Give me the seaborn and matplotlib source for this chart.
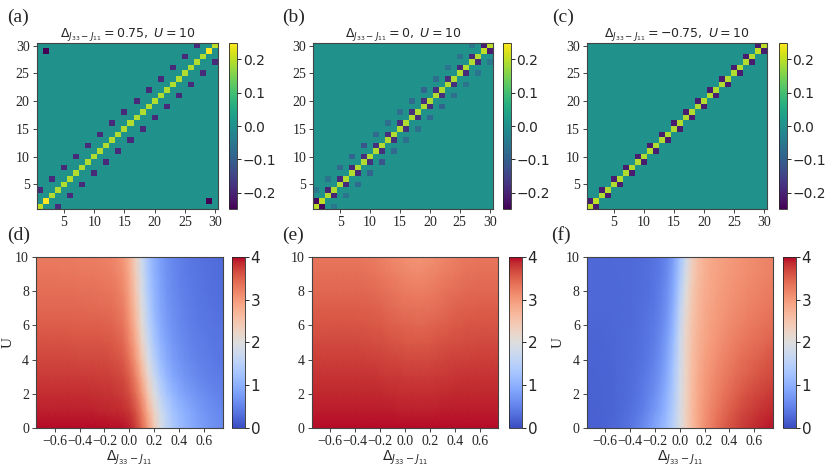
import numpy as np
import matplotlib
matplotlib.use("Agg")
import matplotlib.pyplot as plt
import seaborn as sns

sns.set_theme(style="ticks")
plt.rcParams['font.family'] = ['DejaVu Sans']
plt.rcParams['mathtext.fontset'] = 'dejavusans'

SERIF = 'Liberation Serif'

# ---- top row: 30 x 30 correlation matrices ----
n_sites = 30
site_ticks = [5, 10, 15, 20, 25, 30]

# (a) Delta = 0.75
a_diag = [0.20, 0.25, 0.19, 0.19, 0.19, 0.19, 0.19, 0.19, 0.19, 0.19,
          0.19, 0.19, 0.19, 0.19, 0.19, 0.19, 0.19, 0.19, 0.19, 0.19,
          0.19, 0.19, 0.19, 0.19, 0.19, 0.19, 0.19, 0.19, 0.25, 0.20]
a_band_lo = [1, 3, 5, 7, 9, 11, 13, 15, 17, 19, 21, 23, 25, 27]   # pairs (i, i+3)
a_band_val = [-0.19, -0.19, -0.19, -0.19, -0.19, -0.19, -0.19,
              -0.19, -0.19, -0.19, -0.19, -0.19, -0.19, -0.19]
a_corner = [(2, 29)]
a_corner_val = [-0.25]

# (b) Delta = 0
b_diag = [0.20, 0.20, 0.19, 0.19, 0.19, 0.19, 0.19, 0.19, 0.19, 0.19,
          0.19, 0.19, 0.19, 0.19, 0.19, 0.19, 0.19, 0.19, 0.19, 0.19,
          0.19, 0.19, 0.19, 0.19, 0.19, 0.19, 0.19, 0.19, 0.20, 0.20]
b_pair_lo = [1, 3, 5, 7, 9, 11, 13, 15, 17, 19, 21, 23, 25, 27, 29]   # pairs (i, i+1)
b_pair_val = [-0.24, -0.2, -0.19, -0.19, -0.18, -0.18, -0.18, -0.18,
              -0.18, -0.18, -0.18, -0.18, -0.19, -0.19, -0.21]
b_band_lo = [1, 3, 5, 7, 9, 11, 13, 15, 17, 19, 21, 23, 25, 27]
b_band_val = [-0.05, -0.06, -0.08, -0.09, -0.12, -0.08, -0.07,
              -0.07, -0.08, -0.09, -0.07, -0.06, -0.06, -0.05]

# (c) Delta = -0.75
c_diag = [0.20, 0.20, 0.19, 0.19, 0.19, 0.19, 0.19, 0.19, 0.19, 0.19,
          0.19, 0.19, 0.19, 0.19, 0.19, 0.19, 0.19, 0.19, 0.19, 0.19,
          0.19, 0.19, 0.19, 0.19, 0.19, 0.19, 0.19, 0.19, 0.20, 0.20]
c_pair_lo = [1, 3, 5, 7, 9, 11, 13, 15, 17, 19, 21, 23, 25, 27, 29]
c_pair_val = [-0.21, -0.21, -0.21, -0.21, -0.21, -0.21, -0.21, -0.21,
              -0.21, -0.21, -0.21, -0.21, -0.21, -0.21, -0.21]

# ---- bottom row: phase diagrams sampled at U = 0, 1, ..., 10 and Delta = -0.75, -0.70, ..., 0.75 ----
delta_lo, delta_step = -0.75, 0.05
delta_ticks = [-0.6, -0.4, -0.2, 0.0, 0.2, 0.4, 0.6]
u_ticks = [0, 2, 4, 6, 8, 10]

d_rows = [
    [3.97,3.97,3.97,3.97,3.97,3.97,3.97,3.97,3.97,3.97,3.97,3.97,3.96,3.96,3.95,3.90,3.75,3.45,3.00,2.45,1.95,1.62,1.38,1.20,1.06,0.95,0.85,0.77,0.70,0.65,0.60],
    [3.90,3.90,3.90,3.90,3.90,3.90,3.90,3.90,3.90,3.90,3.89,3.88,3.87,3.86,3.84,3.78,3.60,3.25,2.78,2.25,1.80,1.50,1.28,1.12,0.99,0.88,0.79,0.71,0.65,0.60,0.56],
    [3.83,3.83,3.83,3.83,3.83,3.83,3.83,3.83,3.83,3.82,3.82,3.81,3.80,3.78,3.74,3.64,3.42,3.02,2.48,1.98,1.58,1.30,1.10,0.95,0.84,0.75,0.68,0.62,0.57,0.53,0.50],
    [3.76,3.76,3.76,3.76,3.76,3.76,3.76,3.75,3.75,3.75,3.74,3.74,3.72,3.70,3.65,3.50,3.22,2.78,2.20,1.72,1.36,1.10,0.92,0.80,0.70,0.63,0.57,0.53,0.49,0.46,0.44],
    [3.68,3.68,3.68,3.68,3.68,3.68,3.68,3.67,3.67,3.67,3.66,3.66,3.64,3.60,3.54,3.35,3.02,2.50,1.95,1.50,1.18,0.96,0.81,0.70,0.62,0.56,0.51,0.47,0.44,0.42,0.40],
    [3.60,3.60,3.60,3.60,3.60,3.60,3.59,3.59,3.59,3.58,3.58,3.57,3.55,3.51,3.44,3.20,2.85,2.28,1.75,1.33,1.05,0.86,0.73,0.63,0.56,0.51,0.47,0.44,0.41,0.39,0.38],
    [3.52,3.52,3.52,3.52,3.52,3.52,3.51,3.51,3.51,3.50,3.50,3.49,3.47,3.42,3.34,3.08,2.70,2.12,1.60,1.22,0.96,0.79,0.67,0.58,0.52,0.47,0.43,0.40,0.38,0.36,0.35],
    [3.45,3.45,3.45,3.45,3.45,3.44,3.44,3.44,3.43,3.43,3.42,3.41,3.39,3.34,3.25,2.98,2.58,2.00,1.50,1.14,0.90,0.74,0.63,0.55,0.49,0.45,0.41,0.38,0.36,0.34,0.33],
    [3.39,3.39,3.39,3.39,3.38,3.38,3.38,3.37,3.37,3.36,3.35,3.34,3.32,3.27,3.17,2.90,2.48,1.90,1.42,1.08,0.86,0.70,0.60,0.52,0.47,0.43,0.39,0.36,0.34,0.32,0.31],
    [3.33,3.33,3.33,3.33,3.32,3.32,3.32,3.31,3.31,3.30,3.29,3.28,3.25,3.20,3.10,2.82,2.38,1.82,1.35,1.04,0.83,0.68,0.58,0.50,0.45,0.41,0.38,0.35,0.33,0.31,0.30],
    [3.28,3.28,3.28,3.28,3.27,3.27,3.27,3.26,3.26,3.25,3.24,3.23,3.19,3.14,3.03,2.75,2.30,1.75,1.30,1.00,0.80,0.66,0.56,0.49,0.44,0.40,0.37,0.34,0.32,0.30,0.29],
]

e_rows = [
    [3.97,3.97,3.97,3.97,3.97,3.97,3.97,3.97,3.97,3.97,3.97,3.97,3.97,3.97,3.97,3.97,3.97,3.97,3.97,3.97,3.97,3.97,3.97,3.97,3.97,3.97,3.97,3.97,3.97,3.97,3.97],
    [3.92,3.92,3.92,3.92,3.92,3.92,3.92,3.92,3.92,3.92,3.92,3.91,3.91,3.91,3.90,3.90,3.90,3.90,3.90,3.90,3.90,3.91,3.91,3.91,3.92,3.92,3.92,3.92,3.92,3.92,3.92],
    [3.87,3.87,3.87,3.87,3.87,3.87,3.87,3.87,3.87,3.87,3.86,3.86,3.85,3.85,3.84,3.84,3.83,3.83,3.83,3.84,3.84,3.85,3.85,3.86,3.86,3.87,3.87,3.87,3.87,3.87,3.87],
    [3.81,3.81,3.81,3.81,3.81,3.81,3.81,3.81,3.81,3.80,3.80,3.79,3.78,3.77,3.77,3.76,3.75,3.75,3.75,3.76,3.77,3.78,3.78,3.79,3.80,3.80,3.81,3.81,3.81,3.81,3.81],
    [3.74,3.74,3.74,3.74,3.74,3.74,3.74,3.74,3.74,3.73,3.72,3.71,3.70,3.69,3.68,3.67,3.66,3.66,3.66,3.67,3.68,3.69,3.71,3.72,3.73,3.73,3.74,3.74,3.74,3.74,3.74],
    [3.66,3.66,3.66,3.66,3.66,3.66,3.66,3.66,3.65,3.65,3.64,3.63,3.61,3.59,3.58,3.56,3.55,3.55,3.55,3.56,3.58,3.60,3.61,3.63,3.64,3.65,3.65,3.66,3.66,3.66,3.66],
    [3.59,3.59,3.59,3.59,3.59,3.59,3.59,3.59,3.58,3.57,3.56,3.55,3.53,3.51,3.49,3.47,3.46,3.45,3.45,3.47,3.49,3.51,3.53,3.55,3.56,3.58,3.58,3.59,3.59,3.59,3.59],
    [3.52,3.52,3.52,3.52,3.52,3.52,3.52,3.52,3.51,3.50,3.49,3.47,3.44,3.42,3.39,3.37,3.36,3.35,3.36,3.37,3.39,3.42,3.45,3.47,3.49,3.50,3.51,3.52,3.52,3.52,3.52],
    [3.45,3.45,3.45,3.45,3.45,3.45,3.45,3.45,3.44,3.43,3.41,3.39,3.36,3.33,3.30,3.28,3.26,3.25,3.26,3.27,3.30,3.33,3.36,3.39,3.41,3.43,3.44,3.45,3.45,3.45,3.45],
    [3.38,3.38,3.38,3.38,3.38,3.38,3.38,3.38,3.37,3.35,3.33,3.31,3.28,3.24,3.21,3.18,3.16,3.15,3.16,3.18,3.21,3.25,3.28,3.31,3.34,3.36,3.37,3.38,3.38,3.38,3.38],
    [3.32,3.32,3.32,3.32,3.32,3.32,3.32,3.32,3.31,3.29,3.27,3.24,3.20,3.16,3.13,3.09,3.07,3.06,3.07,3.09,3.13,3.17,3.21,3.24,3.27,3.29,3.31,3.32,3.32,3.32,3.32],
]

f_rows = [
    [0.18,0.19,0.20,0.22,0.25,0.28,0.33,0.39,0.47,0.58,0.72,0.88,1.05,1.25,1.55,1.90,2.30,2.62,2.88,3.08,3.24,3.38,3.50,3.60,3.68,3.75,3.80,3.85,3.89,3.92,3.95],
    [0.19,0.20,0.21,0.22,0.23,0.26,0.29,0.34,0.40,0.48,0.60,0.74,0.92,1.15,1.46,1.86,2.30,2.63,2.87,3.05,3.19,3.31,3.42,3.51,3.59,3.66,3.71,3.76,3.80,3.83,3.86],
    [0.20,0.21,0.21,0.22,0.23,0.25,0.27,0.31,0.36,0.43,0.52,0.65,0.82,1.06,1.40,1.84,2.28,2.62,2.85,3.01,3.13,3.24,3.33,3.41,3.49,3.55,3.61,3.66,3.70,3.74,3.77],
    [0.21,0.21,0.22,0.22,0.23,0.25,0.27,0.30,0.34,0.40,0.47,0.58,0.74,0.98,1.33,1.80,2.26,2.60,2.82,2.97,3.08,3.18,3.26,3.33,3.40,3.46,3.51,3.56,3.60,3.64,3.67],
    [0.22,0.22,0.22,0.23,0.24,0.25,0.27,0.29,0.32,0.37,0.43,0.52,0.67,0.90,1.26,1.76,2.24,2.58,2.79,2.93,3.03,3.12,3.20,3.26,3.32,3.38,3.43,3.47,3.51,3.55,3.58],
    [0.23,0.23,0.23,0.24,0.24,0.25,0.27,0.29,0.31,0.35,0.40,0.48,0.61,0.83,1.19,1.72,2.22,2.56,2.76,2.89,2.98,3.06,3.13,3.19,3.25,3.30,3.34,3.38,3.42,3.46,3.49],
    [0.24,0.24,0.24,0.24,0.25,0.26,0.27,0.28,0.30,0.33,0.38,0.45,0.56,0.76,1.10,1.65,2.18,2.53,2.73,2.85,2.94,3.01,3.07,3.13,3.18,3.23,3.27,3.31,3.34,3.37,3.40],
    [0.25,0.25,0.25,0.25,0.25,0.26,0.27,0.28,0.30,0.32,0.36,0.42,0.52,0.70,1.02,1.56,2.10,2.48,2.69,2.82,2.90,2.97,3.03,3.08,3.13,3.17,3.21,3.24,3.27,3.30,3.33],
    [0.25,0.25,0.25,0.26,0.26,0.26,0.27,0.28,0.29,0.31,0.34,0.40,0.49,0.65,0.95,1.45,2.00,2.44,2.66,2.79,2.87,2.93,2.99,3.04,3.08,3.12,3.16,3.19,3.22,3.25,3.27],
    [0.26,0.26,0.26,0.26,0.26,0.27,0.27,0.28,0.29,0.31,0.33,0.38,0.46,0.60,0.88,1.34,1.88,2.36,2.62,2.76,2.85,2.91,2.96,3.01,3.05,3.09,3.12,3.15,3.18,3.21,3.23],
    [0.26,0.26,0.26,0.26,0.27,0.27,0.27,0.28,0.29,0.30,0.33,0.37,0.44,0.56,0.82,1.25,1.76,2.30,2.60,2.75,2.84,2.90,2.95,2.99,3.03,3.07,3.10,3.13,3.16,3.19,3.21],
]

titles = [r'$\Delta_{J_{33}-J_{11}} = 0.75,\ U = 10$',
          r'$\Delta_{J_{33}-J_{11}} = 0,\ U = 10$',
          r'$\Delta_{J_{33}-J_{11}} = -0.75,\ U = 10$']


def build_matrix(diag, pair_sets):
    m = np.zeros((n_sites, n_sites))
    idx = np.arange(n_sites)
    m[idx, idx] = diag
    for pairs, vals in pair_sets:
        for (i, j), v in zip(pairs, vals):
            m[i - 1, j - 1] = v
            m[j - 1, i - 1] = v
    return m


mat_a = build_matrix(a_diag, [([(i, i + 3) for i in a_band_lo], a_band_val),
                              (a_corner, a_corner_val)])
mat_b = build_matrix(b_diag, [([(i, i + 3) for i in b_band_lo], b_band_val),
                              ([(i, i + 1) for i in b_pair_lo], b_pair_val)])
mat_c = build_matrix(c_diag, [([(i, i + 1) for i in c_pair_lo], c_pair_val)])

fig = plt.figure(figsize=(8.3, 4.67), dpi=100)

top_ax = [(0.0442, 0.2188, 0.2763), (0.3775, 0.2161, 0.6057), (0.7069, 0.2176, 0.9382)]
bot_ax = [(0.0434, 0.2249, 0.2799), (0.3755, 0.2248, 0.6136), (0.7069, 0.2241, 0.9437)]


def style_frame(ax):
    for s in ax.spines.values():
        s.set_visible(True)
        s.set_color('#444444')
        s.set_linewidth(0.8)
    ax.tick_params(length=3, width=0.7, color='#444444', pad=2)


for k, mat in enumerate([mat_a, mat_b, mat_c]):
    left, width, cleft = top_ax[k]
    ax = fig.add_axes([left, 0.5518, width, 0.3567])
    cax = fig.add_axes([cleft, 0.5518, 0.0096, 0.3567])
    sns.heatmap(mat, ax=ax, cbar_ax=cax, cmap='viridis', vmin=-0.25, vmax=0.25,
                xticklabels=False, yticklabels=False)
    ax.invert_yaxis()
    pos = [t - 0.5 for t in site_ticks]
    ax.set_xticks(pos)
    ax.set_xticklabels([str(t) for t in site_ticks], fontfamily=SERIF, fontsize=10, rotation=0)
    ax.set_yticks(pos)
    ax.set_yticklabels([str(t) for t in site_ticks], fontfamily=SERIF, fontsize=10, rotation=0)
    style_frame(ax)
    ax.set_title(titles[k], fontsize=9, pad=4)
    cb = ax.collections[0].colorbar
    cb.set_ticks([-0.2, -0.1, 0.0, 0.1, 0.2])
    cb.ax.tick_params(labelsize=10, length=3, width=0.7, pad=1)
    cb.outline.set_visible(True)
    cb.outline.set_linewidth(0.6)

ylabel_x = [-0.112, None, -0.117]
for k, rows in enumerate([d_rows, e_rows, f_rows]):
    grid = np.array(rows)
    left, width, cleft = bot_ax[k]
    ax = fig.add_axes([left, 0.0829, width, 0.3675])
    cax = fig.add_axes([cleft, 0.0829, 0.0153, 0.3675])
    # values are given on grid points, so let the mesh shade smoothly between them
    sns.heatmap(grid, ax=ax, cbar_ax=cax, cmap='coolwarm', vmin=0, vmax=4,
                xticklabels=False, yticklabels=False, shading='gouraud')
    ncol = grid.shape[1]
    nrow = grid.shape[0]
    ax.set_xlim(0, ncol - 1)
    ax.set_ylim(0, nrow - 1)
    ax.set_xticks([(v - delta_lo) / delta_step for v in delta_ticks])
    ax.set_xticklabels([f'{v:.1f}'.replace('-', '\u2212') for v in delta_ticks],
                       fontfamily=SERIF, fontsize=10, rotation=0)
    ax.set_yticks([v * (nrow - 1) / 10 for v in u_ticks])
    ax.set_yticklabels([str(v) for v in u_ticks], fontfamily=SERIF, fontsize=10, rotation=0)
    style_frame(ax)
    ax.set_xlabel(r'$\Delta_{J_{33}-J_{11}}$', fontsize=10, labelpad=0)
    if ylabel_x[k] is not None:
        ax.set_ylabel('U', fontfamily=SERIF, fontsize=11)
        ax.yaxis.set_label_coords(ylabel_x[k], 0.5)
    cb = ax.collections[0].colorbar
    cb.set_ticks([0, 1, 2, 3, 4])
    cb.ax.tick_params(labelsize=11, length=3, width=0.7, pad=1)
    cb.outline.set_visible(True)
    cb.outline.set_linewidth(0.6)

labels = ['(a)', '(b)', '(c)', '(d)', '(e)', '(f)']
lx = [0.009, 0.340, 0.665, 0.009, 0.340, 0.664]
ly = [0.963, 0.963, 0.963, 0.497, 0.497, 0.497]
for t, x, y in zip(labels, lx, ly):
    fig.text(x, y, t, fontfamily=SERIF, fontsize=14, va='center', ha='left')

fig.savefig('out.png', dpi=100)
